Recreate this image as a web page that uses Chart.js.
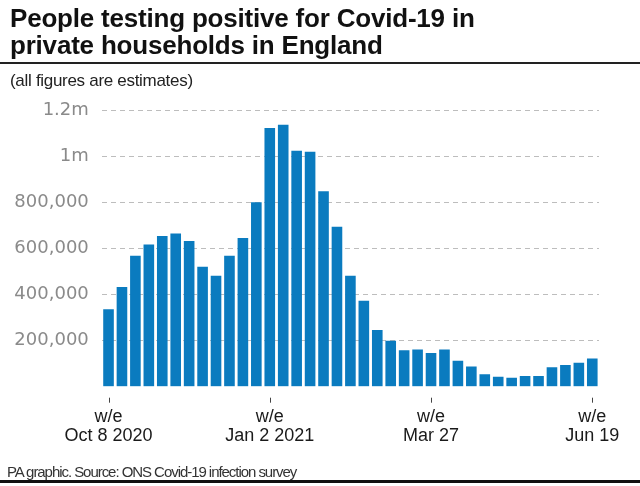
<!DOCTYPE html>
<html>
<head>
<meta charset="utf-8">
<script src="https://cdn.jsdelivr.net/npm/chart.js@4.4.1/dist/chart.umd.min.js"></script>
<style>
  html, body { margin: 0; padding: 0; background: #fff; }
  #wrap { position: relative; width: 640px; height: 486px; overflow: hidden; font-family: "Liberation Sans", Arial, sans-serif; }
  #c { position: absolute; left: 0; top: 0; }
  .title { position: absolute; left: 10px; top: 5px; font-size: 26px; font-weight: bold; line-height: 26.7px; color: #111; letter-spacing: -0.2px; white-space: nowrap; }
  .rule-top { position: absolute; left: 0; top: 62px; width: 640px; height: 2px; background: #222; }
  .subtitle { position: absolute; left: 10px; top: 71px; font-size: 17px; color: #222; white-space: nowrap; letter-spacing: -0.3px; }
  .footer { position: absolute; left: 7px; top: 463px; font-size: 15px; color: #333; white-space: nowrap; letter-spacing: -1.05px; }
  .rule-bottom { position: absolute; left: 0; top: 480px; width: 640px; height: 3px; background: #111; }
</style>
</head>
<body>
<div id="wrap">
  <canvas id="c" width="640" height="486"></canvas>
  <div class="title">People testing positive for Covid-19 in<br>private households in England</div>
  <div class="rule-top"></div>
  <div class="subtitle">(all figures are estimates)</div>
  <div class="footer">PA graphic. Source: ONS Covid-19 infection survey</div>
  <div class="rule-bottom"></div>
</div>
<script>
// Week-ending dates (categories)
const categories = [
  'Oct 8 2020', 'Oct 17 2020', 'Oct 24 2020', 'Oct 31 2020', 'Nov 7 2020', 'Nov 14 2020',
  'Nov 21 2020', 'Nov 28 2020', 'Dec 5 2020', 'Dec 12 2020', 'Dec 19 2020', 'Dec 26 2020',
  'Jan 2 2021', 'Jan 9 2021', 'Jan 16 2021', 'Jan 23 2021', 'Jan 30 2021', 'Feb 6 2021',
  'Feb 13 2021', 'Feb 20 2021', 'Feb 27 2021', 'Mar 6 2021', 'Mar 13 2021', 'Mar 20 2021',
  'Mar 27 2021', 'Apr 3 2021', 'Apr 10 2021', 'Apr 17 2021', 'Apr 24 2021', 'May 1 2021',
  'May 8 2021', 'May 15 2021', 'May 22 2021', 'May 29 2021', 'Jun 5 2021', 'Jun 12 2021',
  'Jun 19 2021'
];

// Estimated number of people testing positive
const positives = [
  336000, 432000, 568000, 617000, 654000, 664000,
  632000, 520000, 481000, 568000, 645000, 800000,
  1122000, 1136000, 1023000, 1019000, 848000, 694000,
  481000, 373000, 246000, 199000, 158000, 161000,
  146000, 161000, 112000, 88000, 54000, 43000,
  39000, 46000, 46000, 84000, 94000, 104000,
  122000
];

// X tick labels shown
const xLabelIndices = [0, 12, 24, 36];
const xLabelTexts = [
  ['w/e', 'Oct 8 2020'],
  ['w/e', 'Jan 2 2021'],
  ['w/e', 'Mar 27'],
  ['w/e', 'Jun 19']
];

// Y tick labels
const yTickValues = [200000, 400000, 600000, 800000, 1000000, 1200000];
const yTickTexts = ['200,000', '400,000', '600,000', '800,000', '1m', '1.2m'];

const xTickMarks = {
  id: 'xTickMarks',
  afterDraw(chart) {
    const ctx = chart.ctx;
    const xs = chart.scales.x;
    const bottom = chart.chartArea.bottom;
    ctx.save();
    ctx.strokeStyle = '#444';
    ctx.lineWidth = 1;
    xLabelIndices.forEach(i => {
      const x = Math.round(xs.getPixelForValue(i)) + 0.5;
      ctx.beginPath();
      ctx.moveTo(x, bottom + 11);
      ctx.lineTo(x, bottom + 16);
      ctx.stroke();
    });
    ctx.restore();
  }
};

new Chart(document.getElementById('c'), {
  type: 'bar',
  data: {
    labels: categories,
    datasets: [{
      data: positives,
      backgroundColor: '#0a7bbf',
      borderWidth: 0,
      categoryPercentage: 1,
      barPercentage: 0.79
    }]
  },
  plugins: [xTickMarks],
  options: {
    responsive: false,
    animation: false,
    devicePixelRatio: 1,
    layout: { padding: { left: 0, right: 41, top: 110, bottom: 29.3 } },
    plugins: {
      legend: { display: false },
      tooltip: { enabled: false },
      title: { display: false }
    },
    scales: {
      x: {
        grid: { display: false, drawTicks: false },
        border: { display: false },
        ticks: {
          autoSkip: false,
          maxRotation: 0,
          minRotation: 0,
          padding: 20,
          color: '#1a1a1a',
          font: { family: '"Liberation Sans", Arial, sans-serif', size: 18, lineHeight: 1.1 },
          callback: (v, i) => {
            const k = xLabelIndices.indexOf(i);
            return k >= 0 ? xLabelTexts[k] : '';
          }
        },
        afterFit: (scale) => { scale.height = 70; }
      },
      y: {
        min: 0,
        max: 1200000,
        grid: {
          drawTicks: false,
          color: (ctx) => (ctx.tick && ctx.tick.value === 0) ? 'rgba(0,0,0,0)' : '#bdbdbd',
          lineWidth: 1
        },
        border: { display: false, dash: [5, 4] },
        ticks: {
          stepSize: 200000,
          padding: 13,
          color: '#8a8a8a',
          font: { family: '"DejaVu Sans", sans-serif', size: 18 },
          callback: (v) => {
            const k = yTickValues.indexOf(v);
            return k >= 0 ? yTickTexts[k] : '';
          }
        },
        afterFit: (scale) => { scale.width = 101.8; }
      }
    }
  }
});
</script>
</body>
</html>
